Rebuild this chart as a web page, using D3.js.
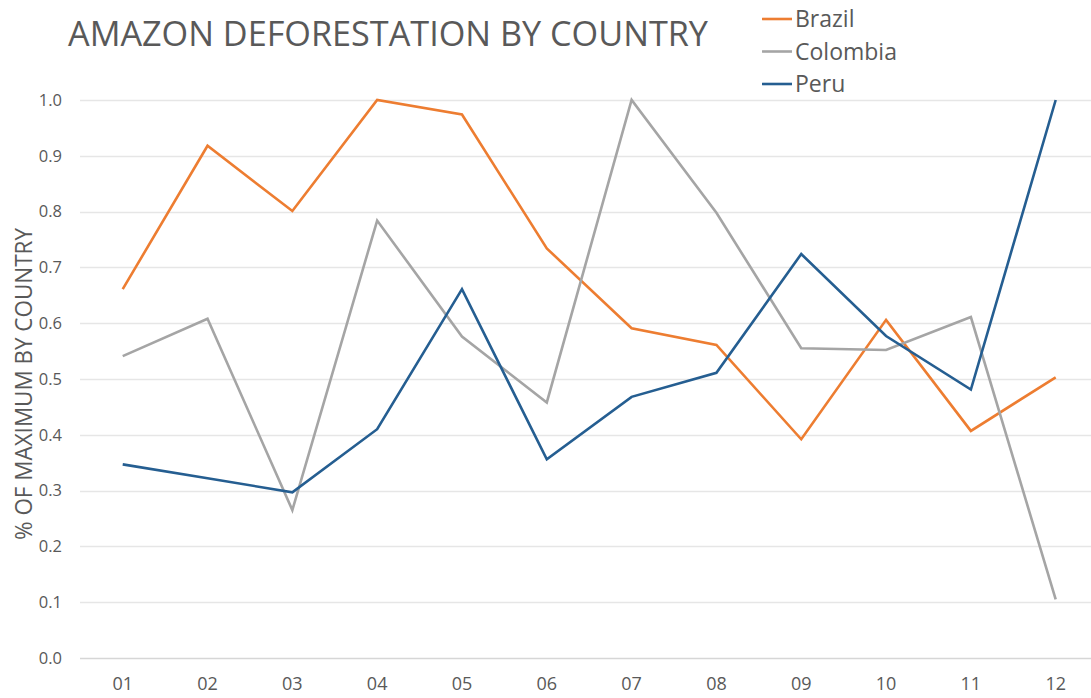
<!DOCTYPE html>
<html>
<head>
<meta charset="utf-8">
<script src="https://cdn.jsdelivr.net/npm/d3@7"></script>
<style>
  html, body { margin: 0; padding: 0; background: #fff; }
  svg { display: block; }
</style>
</head>
<body>
<svg id="chart" width="1091" height="698"></svg>
<script>
// Months of the period and normalised deforestation per country (share of each country's maximum)
const months = ["01", "02", "03", "04", "05", "06", "07", "08", "09", "10", "11", "12"];
const brazil   = [0.661, 0.918, 0.801, 1.000, 0.974, 0.734, 0.591, 0.561, 0.392, 0.606, 0.407, 0.503];
const colombia = [0.541, 0.608, 0.265, 0.784, 0.576, 0.458, 1.000, 0.798, 0.555, 0.552, 0.611, 0.105];
const peru     = [0.347, 0.322, 0.297, 0.410, 0.661, 0.356, 0.468, 0.511, 0.724, 0.577, 0.481, 1.000];
const yTicks   = [0.0, 0.1, 0.2, 0.3, 0.4, 0.5, 0.6, 0.7, 0.8, 0.9, 1.0];

const seriesList = [
  { name: "Brazil",   values: brazil,   color: "#ED7D31" },
  { name: "Colombia", values: colombia, color: "#A5A5A5" },
  { name: "Peru",     values: peru,     color: "#255E91" }
];

const svg = d3.select("#chart");
const textColor = "#595959";
const font = "'Liberation Sans Narrow', 'Open Sans', sans-serif";

const x = d3.scaleBand().domain(months).range([80.3, 1098.1]);
const y = d3.scaleLinear().domain([0, 1]).range([658, 100]);
const cx = m => x(m) + x.bandwidth() / 2;

// Horizontal gridlines
svg.append("g")
  .selectAll("line")
  .data(yTicks)
  .join("line")
  .attr("x1", 80).attr("x2", 1091)
  .attr("y1", d => Math.round(y(d)) + 0.5)
  .attr("y2", d => Math.round(y(d)) + 0.5)
  .attr("stroke", d => d === 0 ? "#d6d6d6" : "#e6e6e6")
  .attr("stroke-width", 1.3);

// Y axis labels
const yAxis = d3.axisLeft(y).tickValues(yTicks).tickFormat(d3.format(".1f")).tickSize(0).tickPadding(0);
svg.append("g")
  .attr("transform", "translate(62,0)")
  .call(yAxis)
  .call(g => g.select(".domain").remove())
  .call(g => g.selectAll("text")
    .attr("fill", textColor)
    .attr("font-family", "'Open Sans', sans-serif")
    .attr("font-size", 16.5));

// X axis labels
const xAxis = d3.axisBottom(x).tickSize(0).tickPadding(0);
svg.append("g")
  .attr("transform", "translate(0,677)")
  .call(xAxis)
  .call(g => g.select(".domain").remove())
  .call(g => g.selectAll("text")
    .attr("fill", textColor)
    .attr("font-family", font)
    .attr("font-size", 18));

// Series lines
const line = d3.line()
  .x((d, i) => cx(months[i]))
  .y(d => y(d));

svg.append("g")
  .selectAll("path")
  .data(seriesList)
  .join("path")
  .attr("d", s => line(s.values))
  .attr("fill", "none")
  .attr("stroke", s => s.color)
  .attr("stroke-width", 2.6)
  .attr("stroke-linejoin", "miter");

// Title
svg.append("text")
  .attr("x", 68).attr("y", 46)
  .attr("fill", textColor)
  .attr("font-family", font)
  .attr("font-size", 35)
  .attr("textLength", 640)
  .attr("lengthAdjust", "spacingAndGlyphs")
  .text("AMAZON DEFORESTATION BY COUNTRY");

// Y axis title
svg.append("text")
  .attr("transform", "translate(32,384) rotate(-90)")
  .attr("text-anchor", "middle")
  .attr("fill", textColor)
  .attr("font-family", font)
  .attr("font-size", 24)
  .attr("textLength", 312)
  .attr("lengthAdjust", "spacingAndGlyphs")
  .text("% OF MAXIMUM BY COUNTRY");

// Legend
const legend = svg.append("g")
  .selectAll("g")
  .data(seriesList)
  .join("g")
  .attr("transform", (d, i) => `translate(762,${19 + i * 32.5})`);

legend.append("line")
  .attr("x1", 0).attr("x2", 30)
  .attr("y1", 0).attr("y2", 0)
  .attr("stroke", d => d.color)
  .attr("stroke-width", 2.6);

legend.append("text")
  .attr("x", 33).attr("y", 0)
  .attr("dy", "0.35em")
  .attr("fill", textColor)
  .attr("font-family", font)
  .attr("font-size", 23)
  .text(d => d.name);
</script>
</body>
</html>
